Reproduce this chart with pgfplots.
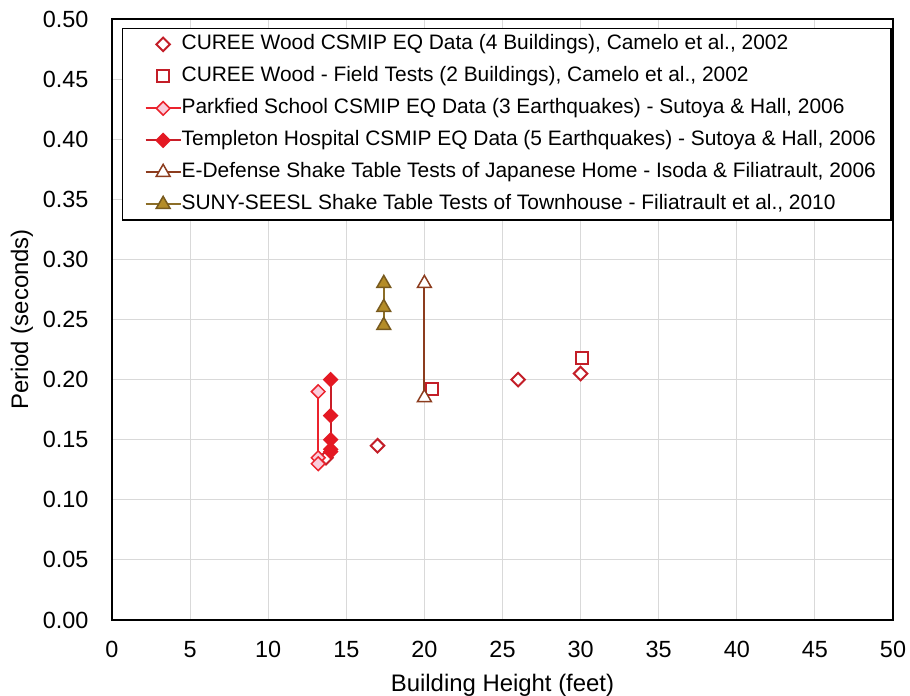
\documentclass[border=0pt]{standalone}
\usepackage{pgfplots}
\pgfplotsset{compat=1.18}
\usepackage{fontspec}
\setmainfont{Liberation Sans}
\definecolor{cureered}{RGB}{195,30,40}
\definecolor{parkred}{RGB}{235,35,45}
\definecolor{parkfill}{RGB}{250,205,220}
\definecolor{templred}{RGB}{228,25,35}
\definecolor{templline}{RGB}{200,30,40}
\definecolor{edbrown}{RGB}{140,60,30}
\definecolor{sunyfill}{RGB}{180,140,40}
\definecolor{sunyedge}{RGB}{120,90,30}
\definecolor{sunyline}{RGB}{140,110,40}
\definecolor{gridgray}{RGB}{217,217,217}
\begin{document}
\begin{tikzpicture}
\begin{axis}[
  scale only axis, width=781bp, height=601bp,
  xmin=0, xmax=50, ymin=0, ymax=0.5,
  xtick={0,5,10,15,20,25,30,35,40,45,50},
  ytick={0,0.05,0.10,0.15,0.20,0.25,0.30,0.35,0.40,0.45,0.50},
  yticklabel style={/pgf/number format/fixed, /pgf/number format/fixed zerofill, /pgf/number format/precision=2},
  /pgf/number format/assume math mode=true,
  tick label style={font=\fontsize{23.5}{23.5}\selectfont},
  yticklabel style={xshift=-20bp},
  xticklabel style={yshift=-18bp},
  grid=major, major grid style={draw=gridgray, line width=1bp},
  axis line style={black, line width=1.3bp},
  major tick length=0pt,
  xlabel={Building Height (feet)}, ylabel={Period (seconds)},
  label style={font=\fontsize{24}{24}\selectfont},
  xlabel style={at={(axis description cs:0.5,-0.1082)}, anchor=center},
  ylabel style={at={(axis description cs:-0.1152,0.5)}, anchor=center},
  legend style={at={(axis description cs:0,1)}, anchor=north west, xshift=10bp, yshift=-9bp,
    draw=black, line width=1.3bp, font=\fontsize{21}{21}\selectfont,
    nodes={inner sep=0pt, text height=15bp, text depth=4.5bp, line width=1bp},
    row sep=12.5bp, inner xsep=15bp, inner ysep=6bp,
    /tikz/every even column/.style={column sep=3bp}},
  legend cell align=left,
  legend image code/.code={
    \path[draw=none,fill=none] (0bp,0bp) -- (8bp,0bp);
    \draw[mark repeat=2,mark phase=2] plot coordinates {(8bp,0bp)(25.5bp,0bp)(43bp,0bp)};},
]
\coordinate (bl) at (rel axis cs:0,0);
\coordinate (tr) at (rel axis cs:1,1);
% CUREE CSMIP
\addplot[only marks, mark=square*, mark size=4.8bp, mark options={rotate=45, draw=cureered, fill=white, line width=2bp}]
  coordinates {(17,0.145) (26,0.20) (30,0.205) (13.7,0.135)};
\addlegendentry{CUREE Wood CSMIP EQ Data (4 Buildings), Camelo et al., 2002}
% CUREE Field
\addplot[only marks, mark=square*, mark size=6bp, mark options={draw=cureered, fill=white, line width=2bp}]
  coordinates {(30.1,0.218) (20.5,0.192)};
\addlegendentry{CUREE Wood - Field Tests (2 Buildings), Camelo et al., 2002}
% Parkfield
\addplot[parkred, line width=2bp, mark=square*, mark size=4.8bp, mark options={rotate=45, draw=parkred, fill=parkfill, line width=1.5bp}]
  coordinates {(13.2,0.19) (13.2,0.135) (13.2,0.13)};
\addlegendentry{Parkfied School CSMIP EQ Data (3 Earthquakes) - Sutoya \& Hall, 2006}
% Templeton
\addplot[templline, line width=2bp, mark=square*, mark size=4.8bp, mark options={rotate=45, draw=templred, fill=templred, line width=1.5bp}]
  coordinates {(14,0.20) (14,0.17) (14,0.15) (14,0.142) (14,0.14)};
\addlegendentry{Templeton Hospital CSMIP EQ Data (5 Earthquakes) - Sutoya \& Hall, 2006}
% E-Defense
\addplot[edbrown, line width=2bp, mark=triangle*, mark size=8bp, mark options={draw=edbrown, fill=white, line width=1.5bp}]
  coordinates {(20,0.28) (20,0.185)};
\addlegendentry{E-Defense Shake Table Tests of Japanese Home - Isoda \& Filiatrault, 2006}
% SUNY
\addplot[sunyline, line width=2bp, mark=triangle*, mark size=8bp, mark options={draw=sunyedge, fill=sunyfill, line width=1.5bp}]
  coordinates {(17.4,0.28) (17.4,0.26) (17.4,0.245)};
\addlegendentry{SUNY-SEESL Shake Table Tests of Townhouse - Filiatrault et al., 2010}
\end{axis}
\pgfresetboundingbox
\path ([shift={(-112bp,-76bp)}]bl) rectangle ([shift={(17bp,19bp)}]tr);
\end{tikzpicture}
\end{document}
